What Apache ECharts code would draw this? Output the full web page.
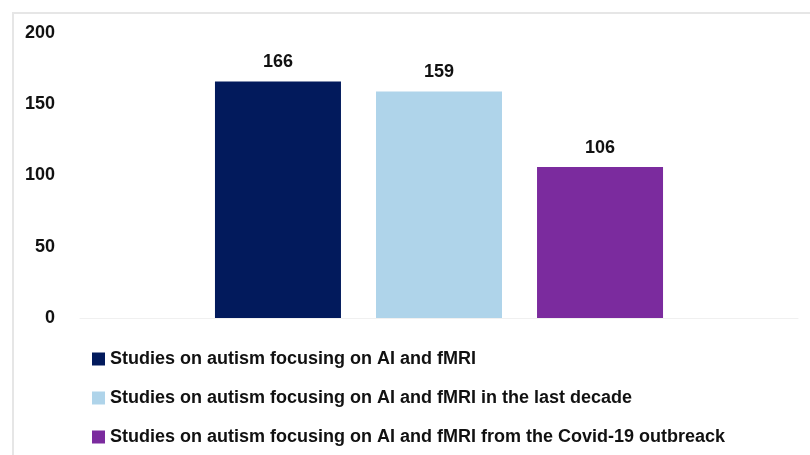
<!DOCTYPE html>
<html>
<head>
<meta charset="utf-8">
<script src="https://cdn.jsdelivr.net/npm/echarts@6/dist/echarts.min.js"></script>
<style>
  html, body { margin: 0; padding: 0; background: #fff; }
  #frame {
    position: absolute; left: 12px; top: 12px; width: 798px; height: 443px;
    border-left: 2px solid #e6e6e6; border-top: 2px solid #e6e6e6;
  }
  #chart { width: 810px; height: 455px; position: absolute; left: 0; top: 0; }
</style>
</head>
<body>
<div id="frame"></div>
<div id="chart"></div>
<script>
const categories = [""];
const seriesNames = [
  "Studies on autism focusing on AI and fMRI",
  "Studies on autism focusing on AI and fMRI in the last decade",
  "Studies on autism focusing on AI and fMRI from the Covid-19 outbreack"
];
const seriesValues = [166, 159, 106];
const seriesColors = ["#021a5c", "#afd4ea", "#7b2b9e"];
const yTicks = { min: 0, max: 200, interval: 50 };

const chart = echarts.init(document.getElementById("chart"));
const option = {
  animation: false,
  legend: {
    orient: "vertical",
    left: 87,
    top: 345,
    itemGap: 21,
    itemWidth: 13,
    itemHeight: 13,
    icon: "rect",
    textStyle: {
      fontFamily: "Liberation Sans",
      fontWeight: "bold",
      fontSize: 18,
      color: "#111",
    },
    data: seriesNames,
  },
  grid: {
    left: 80,
    right: 12,
    top: 33,
    bottom: 137,
  },
  xAxis: {
    type: "category",
    data: categories,
    axisLine: { show: true, lineStyle: { color: "#f0f0f0" } },
    axisTick: { show: false },
    axisLabel: { show: false },
  },
  yAxis: {
    type: "value",
    min: yTicks.min,
    max: yTicks.max,
    interval: yTicks.interval,
    splitLine: { show: false },
    axisLine: { show: false },
    axisTick: { show: false },
    axisLabel: {
      margin: 25,
      fontFamily: "Liberation Sans",
      fontWeight: "bold",
      fontSize: 18,
      color: "#111",
    },
  },
  series: seriesNames.map((name, i) => ({
    name: name,
    type: "bar",
    data: [seriesValues[i]],
    barWidth: 126,
    barGap: "27.8%",
    itemStyle: { color: seriesColors[i] },
    label: {
      show: true,
      position: "top",
      distance: 10,
      fontFamily: "Liberation Sans",
      fontWeight: "bold",
      fontSize: 18,
      color: "#111",
    },
  })),
};
chart.setOption(option);
</script>
</body>
</html>
